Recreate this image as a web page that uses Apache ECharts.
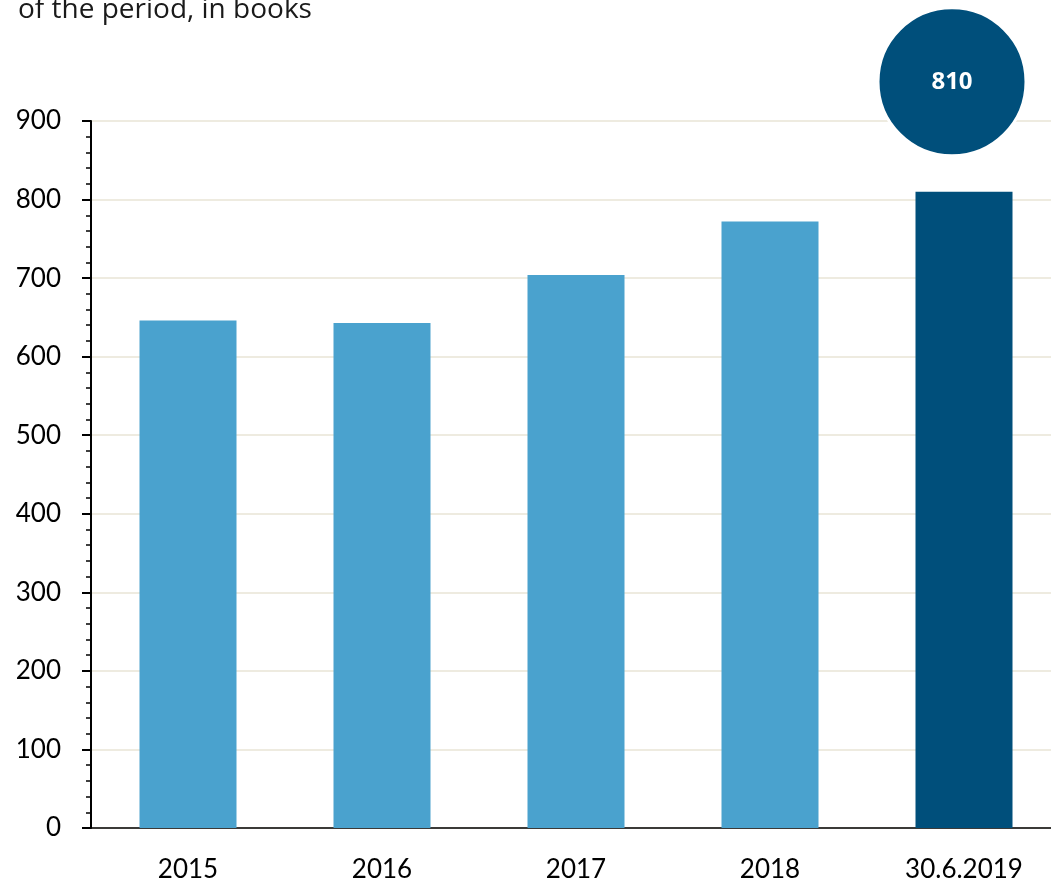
<!DOCTYPE html>
<html>
<head>
<meta charset="utf-8">
<script src="https://cdn.jsdelivr.net/npm/echarts@6/dist/echarts.min.js"></script>
<style>
  html, body { margin: 0; padding: 0; background: #fff; }
  #chart { width: 1051px; height: 885px; }
</style>
</head>
<body>
<div id="chart"></div>
<script>
// Books at the end of each period
const categories = ['2015', '2016', '2017', '2018', '30.6.2019'];
const values = [646, 643, 704, 772, 810];
const barColors = ['#4AA2CE', '#4AA2CE', '#4AA2CE', '#4AA2CE', '#004F7B'];
const yTicks = { min: 0, max: 900, interval: 100 };
const subtitle = 'of the period, in books';

const chart = echarts.init(document.getElementById('chart'), null, { renderer: 'canvas' });
const lastIndex = values.length - 1;

chart.setOption({
  animation: false,
  textStyle: { fontFamily: 'Lato' },
  title: {
    text: subtitle,
    left: 13,
    top: -9,
    textStyle: { fontFamily: 'Open Sans', fontSize: 28, fontWeight: 'normal', color: '#1a1a1a' }
  },
  // plot area runs a little past the right edge of the canvas
  grid: { left: 91, width: 970, top: 121, bottom: 57, containLabel: false, outerBoundsMode: 'none' },
  xAxis: {
    type: 'category',
    data: categories,
    axisLine: { lineStyle: { color: '#000', width: 1.5 } },
    axisTick: { show: false },
    axisLabel: { margin: 29, fontSize: 26, color: '#000', fontFamily: 'Lato' }
  },
  yAxis: {
    type: 'value',
    min: yTicks.min,
    max: yTicks.max,
    interval: yTicks.interval,
    axisLine: { show: true, lineStyle: { color: '#000', width: 2 } },
    axisTick: { show: true, length: 9, lineStyle: { color: '#000', width: 2 } },
    minorTick: { show: true, splitNumber: 5, length: 5, lineStyle: { color: '#000', width: 1.5 } },
    axisLabel: { margin: 30, fontSize: 26, color: '#000', fontFamily: 'Lato' },
    splitLine: { show: true, lineStyle: { color: '#EEEBE0', width: 2 } }
  },
  series: [{
    type: 'bar',
    barWidth: '50%',
    data: values.map((v, i) => ({ value: v, itemStyle: { color: barColors[i] } })),
    markPoint: {
      symbol: 'circle',
      symbolSize: 148,
      symbolOffset: [-12, -110],
      itemStyle: { color: '#004F7B', borderColor: '#fff', borderWidth: 3 },
      label: {
        show: true,
        position: 'inside',
        color: '#fff',
        fontFamily: 'Open Sans',
        fontWeight: 'bold',
        fontSize: 24,
        formatter: p => String(p.value)
      },
      data: [{ coord: [categories[lastIndex], values[lastIndex]], value: values[lastIndex] }]
    }
  }]
});
</script>
</body>
</html>
